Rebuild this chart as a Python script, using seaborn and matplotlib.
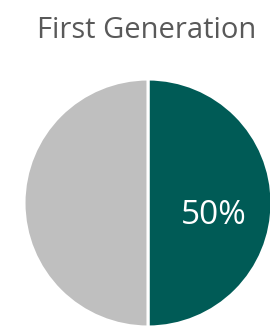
import matplotlib
matplotlib.use("Agg")
import matplotlib.pyplot as plt
import seaborn as sns

title = "First Generation"
categories = ["First Generation", "Other"]
values = [50, 50]
colors = ["#005B56", "#BFBFBF"]

sns.set_theme(style="white")
plt.rcParams['font.family'] = ['Open Sans', 'DejaVu Sans']

W, H = 270, 328
fig = plt.figure(figsize=(W / 100, H / 100), dpi=100)
ax = fig.add_axes([0, 0, 1, 1])

cx, cy, r = 148, H - 203, 124
wedges, texts, autotexts = ax.pie(
    values, colors=colors, startangle=90, counterclock=False,
    center=(cx, cy), radius=r, autopct="%d%%", pctdistance=0.53,
    wedgeprops=dict(edgecolor="white", linewidth=2.2),
    textprops=dict(color="white", fontsize=24),
)
ax.set_xlim(0, W)
ax.set_ylim(0, H)
ax.set_aspect("equal")
ax.axis("off")
autotexts[1].set_visible(False)
x, y = autotexts[0].get_position()
autotexts[0].set_position((x, y - 12))

ax.text(147, H - 31, title, ha="center", va="center", fontsize=21, color="#595959")

fig.savefig("out.png", dpi=100)
